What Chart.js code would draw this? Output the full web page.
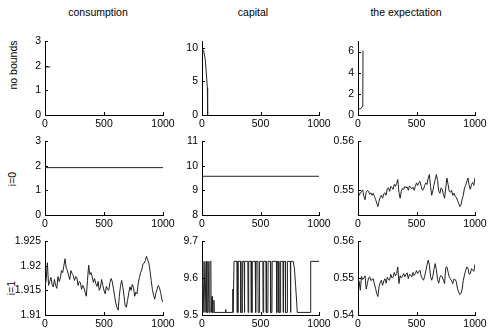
<!DOCTYPE html>
<html>
<head>
<meta charset="utf-8">
<script src="https://cdn.jsdelivr.net/npm/chart.js@4"></script>
<style>
  html, body { margin: 0; padding: 0; background: #fff; }
  body { width: 488px; height: 328px; position: relative; overflow: hidden;
         font-family: "Liberation Sans", Arial, sans-serif; font-size: 10.5px; color: #000; }
  canvas { position: absolute; }
  .lbl { position: absolute; white-space: nowrap; transform: translate(-50%, -50%); }
  .rot { transform: translate(-50%, -50%) rotate(-90deg); }
</style>
</head>
<body>
<div class="lbl" style="left:98px;top:12px">consumption</div>
<div class="lbl" style="left:253px;top:12px">capital</div>
<div class="lbl" style="left:406px;top:12px">the expectation</div>
<div class="lbl rot" style="left:13px;top:65px">no bounds</div>
<div class="lbl rot" style="left:12px;top:179px">i=0</div>
<div class="lbl rot" style="left:11px;top:288px">i=1</div>

<script>
// time axis
const xTicks = [0, 500, 1000];
const t10 = Array.from({ length: 101 }, (_, i) => i * 10);

// row 1: no bounds
const cons1T = [0, 45];
const cons1V = [1.95, 1.95];
const cap1T = [0, 5, 14, 28, 40, 46, 48];
const cap1V = [9.9, 9.8, 9.6, 8.2, 5.5, 4.0, 0];
const exp1T = [0, 25, 35, 41, 43];
const exp1V = [0.55, 0.6, 0.8, 1.2, 6.1];

// row 2: i=0
const cons2T = [0, 1000];
const cons2V = [1.92, 1.92];
const cap2T = [0, 1000];
const cap2V = [9.57, 9.57];
const exp2V = [
  0.5503, 0.5490, 0.5494, 0.5498, 0.5501, 0.5488, 0.5481, 0.5496, 0.5500, 0.5498,
  0.5492, 0.5495, 0.5490, 0.5494, 0.5488, 0.5482, 0.5474, 0.5467, 0.5478, 0.5486,
  0.5490, 0.5484, 0.5493, 0.5495, 0.5490, 0.5503, 0.5505, 0.5498, 0.5508, 0.5506,
  0.5502, 0.5512, 0.5508, 0.5514, 0.5522, 0.5496, 0.5484, 0.5498, 0.5504, 0.5502,
  0.5508, 0.5505, 0.5507, 0.5500, 0.5509, 0.5506, 0.5503, 0.5506, 0.5500, 0.5508,
  0.5515, 0.5510, 0.5516, 0.5518, 0.5508, 0.5500, 0.5502, 0.5510, 0.5515, 0.5512,
  0.5525, 0.5532, 0.5508, 0.5490, 0.5500, 0.5512, 0.5522, 0.5532, 0.5520, 0.5498,
  0.5494, 0.5505, 0.5502, 0.5492, 0.5484, 0.5505, 0.5525, 0.5512, 0.5498, 0.5496,
  0.5500, 0.5490, 0.5494, 0.5488, 0.5486, 0.5480, 0.5474, 0.5467, 0.5470, 0.5482,
  0.5490, 0.5505, 0.5510, 0.5518, 0.5525, 0.5510, 0.5502, 0.5512, 0.5516, 0.5510,
  0.5526
];

// row 3: i=1
const cons3V = [
  1.9158, 1.9172, 1.9206, 1.9160, 1.9168, 1.9176, 1.9162, 1.9157, 1.9172, 1.9160,
  1.9154, 1.9178, 1.9168, 1.9175, 1.9190, 1.9186, 1.9200, 1.9214, 1.9195, 1.9190,
  1.9180, 1.9172, 1.9190, 1.9184, 1.9180, 1.9170, 1.9178, 1.9176, 1.9160, 1.9168,
  1.9166, 1.9152, 1.9160, 1.9155, 1.9146, 1.9138, 1.9170, 1.9201, 1.9182, 1.9186,
  1.9178, 1.9166, 1.9174, 1.9164, 1.9158, 1.9168, 1.9150, 1.9156, 1.9172, 1.9160,
  1.9150, 1.9143, 1.9158, 1.9152, 1.9150, 1.9165, 1.9174, 1.9168, 1.9153, 1.9138,
  1.9124, 1.9115, 1.9110, 1.9138, 1.9160, 1.9170, 1.9156, 1.9138, 1.9118, 1.9116,
  1.9130, 1.9145, 1.9157, 1.9150, 1.9162, 1.9156, 1.9138, 1.9146, 1.9143, 1.9164,
  1.9176, 1.9186, 1.9192, 1.9203, 1.9205, 1.9210, 1.9219, 1.9212, 1.9205, 1.9190,
  1.9170, 1.9152, 1.9140, 1.9132, 1.9145, 1.9152, 1.9160, 1.9155, 1.9146, 1.9132,
  1.9126
];
const cap3T = [
  0, 8, 10, 16, 18, 24, 26, 33, 35, 40, 42, 50, 52, 58, 60, 66, 68, 76, 78, 84, 86, 88,
  100, 102, 104, 200, 202, 204, 262, 264, 266, 272, 274,
  300, 302, 308, 310, 330, 332, 343, 345, 360, 362, 364, 366, 392, 394, 398, 400,
  420, 422, 428, 430, 455, 457, 460, 462, 478, 480, 490, 492, 520, 522, 526, 528,
  548, 550, 563, 565, 585, 587, 598, 600, 636, 638, 640, 642, 655, 657, 670, 672,
  692, 694, 696, 698, 712, 714, 728, 730, 755, 757, 758, 760,
  780, 790, 800, 810, 814, 927, 929, 1000
];
const cap3V = [
  9.645, 9.645, 9.507, 9.507, 9.645, 9.645, 9.507, 9.507, 9.645, 9.645, 9.507, 9.507, 9.645, 9.645, 9.507, 9.507, 9.645, 9.645, 9.507, 9.507, 9.55, 9.507,
  9.507, 9.54, 9.507, 9.507, 9.515, 9.507, 9.507, 9.57, 9.507, 9.507, 9.645,
  9.645, 9.507, 9.507, 9.645, 9.645, 9.507, 9.507, 9.645, 9.645, 9.507, 9.507, 9.645, 9.645, 9.507, 9.507, 9.645,
  9.645, 9.507, 9.507, 9.645, 9.645, 9.507, 9.507, 9.645, 9.645, 9.507, 9.507, 9.645, 9.645, 9.507, 9.507, 9.645,
  9.645, 9.507, 9.507, 9.645, 9.645, 9.507, 9.507, 9.645, 9.645, 9.507, 9.507, 9.645, 9.645, 9.507, 9.507, 9.645,
  9.645, 9.507, 9.507, 9.645, 9.645, 9.507, 9.507, 9.645, 9.645, 9.507, 9.507, 9.645,
  9.645, 9.625, 9.58, 9.53, 9.507, 9.507, 9.645, 9.645
];
const exp3V = [
  0.5498, 0.5490, 0.5467, 0.5504, 0.5496, 0.5500, 0.5506, 0.5470, 0.5485, 0.5500,
  0.5503, 0.5493, 0.5496, 0.5498, 0.5484, 0.5472, 0.5458, 0.5450, 0.5476, 0.5488,
  0.5494, 0.5480, 0.5492, 0.5498, 0.5486, 0.5502, 0.5496, 0.5494, 0.5510, 0.5500,
  0.5502, 0.5515, 0.5506, 0.5512, 0.5530, 0.5485, 0.5506, 0.5500, 0.5505, 0.5512,
  0.5503, 0.5510, 0.5514, 0.5498, 0.5510, 0.5508, 0.5503, 0.5515, 0.5507, 0.5512,
  0.5520, 0.5512, 0.5518, 0.5521, 0.5505, 0.5498, 0.5494, 0.5505, 0.5520, 0.5535,
  0.5548, 0.5536, 0.5504, 0.5494, 0.5505, 0.5525, 0.5539, 0.5522, 0.5496, 0.5486,
  0.5502, 0.5507, 0.5503, 0.5494, 0.5485, 0.5528, 0.5530, 0.5516, 0.5503, 0.5498,
  0.5492, 0.5485, 0.5497, 0.5496, 0.5490, 0.5472, 0.5462, 0.5455, 0.5458, 0.5470,
  0.5494, 0.5508, 0.5520, 0.5530, 0.5526, 0.5510, 0.5512, 0.5525, 0.5522, 0.5518,
  0.5537
];

// y axes per panel
const yRanges = [
  [[0, 3], [0, 11], [0, 7]],
  [[0, 3], [8, 11], [0.545, 0.56]],
  [[1.91, 1.925], [9.5, 9.7], [0.54, 0.56]]
];
const yTicks = [
  [[0, 1, 2, 3], [0, 5, 10], [0, 2, 4, 6]],
  [[0, 1, 2, 3], [8, 9, 10, 11], [0.55, 0.56]],
  [[1.91, 1.915, 1.92, 1.925], [9.5, 9.6, 9.7], [0.54, 0.55, 0.56]]
];

const series = [
  [[cons1T, cons1V], [cap1T, cap1V], [exp1T, exp1V]],
  [[cons2T, cons2V], [cap2T, cap2V], [t10, exp2V]],
  [[t10, cons3V], [cap3T, cap3V], [t10, exp3V]]
];

// plot-area boxes (px) in the page
const colX = [[45, 163], [202, 319], [358, 475]];
const rowY = [[41, 115], [141, 215], [241, 315]];
const AXW = 44, PADT = 8, PADR = 14, AXH = 16;

Chart.defaults.font.family = '"Liberation Sans", Arial, sans-serif';
Chart.defaults.font.size = 10.5;
Chart.defaults.color = '#000';

// MATLAB-style ticks pointing into the plot
const innerTicks = {
  id: 'innerTicks',
  afterDraw(chart) {
    const { ctx, chartArea: a, scales: { x, y } } = chart;
    ctx.save();
    ctx.strokeStyle = '#000';
    ctx.lineWidth = 1;
    ctx.beginPath();
    x.ticks.forEach(t => {
      const px = Math.round(x.getPixelForValue(t.value)) + 0.5;
      ctx.moveTo(px, a.bottom);
      ctx.lineTo(px, a.bottom - 3);
    });
    y.ticks.forEach(t => {
      const py = Math.round(y.getPixelForValue(t.value)) + 0.5;
      ctx.moveTo(a.left, py);
      ctx.lineTo(a.left + 3, py);
    });
    ctx.stroke();
    ctx.restore();
  }
};

function makePanel(r, c) {
  const [L, R] = colX[c];
  const [T, B] = rowY[r];
  const cv = document.createElement('canvas');
  const w = R - L + AXW + PADR, h = B - T + PADT + AXH;
  cv.width = w; cv.height = h;
  cv.style.left = (L - AXW) + 'px';
  cv.style.top = (T - PADT) + 'px';
  cv.style.width = w + 'px';
  cv.style.height = h + 'px';
  document.body.appendChild(cv);

  const [ts, vs] = series[r][c];
  const pts = ts.map((t, i) => ({ x: t, y: vs[i] }));
  const yt = yTicks[r][c];

  new Chart(cv, {
    type: 'line',
    data: {
      datasets: [{
        data: pts,
        borderColor: '#222',
        borderWidth: 1,
        pointRadius: 0,
        tension: 0,
        fill: false
      }]
    },
    options: {
      responsive: false,
      animation: false,
      events: [],
      layout: { padding: { top: PADT, right: PADR, left: 0, bottom: 0 } },
      plugins: { legend: { display: false }, tooltip: { enabled: false } },
      scales: {
        x: {
          type: 'linear',
          min: 0,
          max: 1000,
          grid: { display: false, drawTicks: false },
          border: { display: true, color: '#000', width: 1 },
          ticks: { padding: 3, maxRotation: 0, autoSkip: false, callback: v => String(v) },
          afterBuildTicks: s => { s.ticks = xTicks.map(v => ({ value: v })); },
          afterFit: s => { s.height = AXH; s.paddingLeft = 0; s.paddingRight = 0; }
        },
        y: {
          min: yRanges[r][c][0],
          max: yRanges[r][c][1],
          grid: { display: false, drawTicks: false },
          border: { display: true, color: '#000', width: 1 },
          ticks: { padding: 4, autoSkip: false, callback: v => String(+v.toFixed(4)) },
          afterBuildTicks: s => { s.ticks = yt.map(v => ({ value: v })); },
          afterFit: s => { s.width = AXW; s.paddingTop = 0; s.paddingBottom = 0; }
        }
      }
    },
    plugins: [innerTicks]
  });
}

for (let r = 0; r < 3; r++) {
  for (let c = 0; c < 3; c++) makePanel(r, c);
}
</script>
</body>
</html>
